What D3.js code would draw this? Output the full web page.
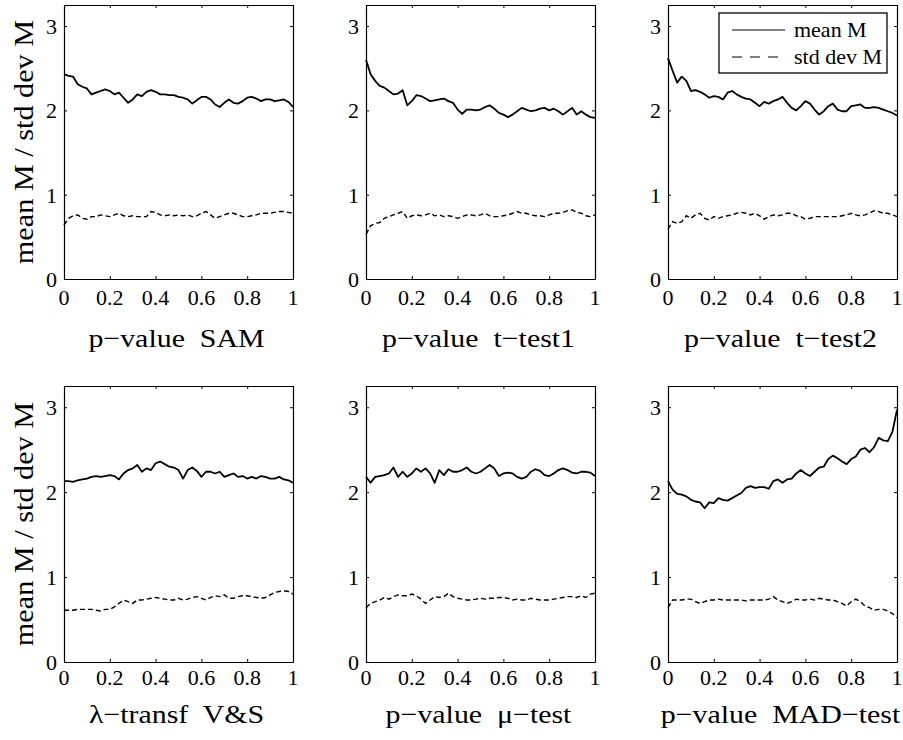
<!DOCTYPE html>
<html>
<head>
<meta charset="utf-8">
<script src="https://cdn.jsdelivr.net/npm/d3@7"></script>
<style>
  html, body { margin: 0; padding: 0; background: #fff; }
  svg { display: block; }
  text { font-family: "Liberation Serif", "Times New Roman", serif; fill: #000; white-space: pre; }
</style>
</head>
<body>
<svg id="chart" width="903" height="740"></svg>
<script>
// Sampling grid along each cutoff axis (step 0.02)
const xGrid = d3.range(51).map(i => +(i * 0.02).toFixed(2));

// Mean and standard deviation of M for each ranking method
const meanSAM = [2.43,2.41,2.40,2.31,2.28,2.26,2.19,2.21,2.23,2.25,2.23,2.19,2.21,2.15,2.09,2.13,2.19,2.17,2.22,2.24,2.22,2.19,2.19,2.18,2.18,2.16,2.15,2.13,2.08,2.12,2.16,2.16,2.13,2.07,2.04,2.09,2.13,2.09,2.08,2.11,2.15,2.16,2.14,2.11,2.13,2.13,2.11,2.12,2.13,2.10,2.04];
const stdSAM  = [0.64,0.72,0.75,0.76,0.72,0.71,0.74,0.74,0.76,0.75,0.74,0.76,0.78,0.75,0.74,0.75,0.74,0.74,0.74,0.80,0.79,0.76,0.75,0.76,0.75,0.76,0.75,0.76,0.74,0.75,0.78,0.80,0.76,0.72,0.74,0.76,0.78,0.78,0.76,0.74,0.74,0.75,0.76,0.78,0.78,0.78,0.79,0.80,0.80,0.79,0.78];

const meanT1 = [2.60,2.43,2.35,2.29,2.27,2.23,2.19,2.20,2.24,2.06,2.11,2.18,2.17,2.14,2.11,2.12,2.13,2.14,2.11,2.09,2.01,1.96,2.01,2.01,2.00,2.01,2.04,2.06,2.02,1.97,1.95,1.92,1.95,1.99,2.03,2.01,1.99,2.00,2.02,2.03,2.00,2.02,1.99,1.95,1.99,2.03,1.95,1.99,1.95,1.92,1.91];
const stdT1  = [0.53,0.63,0.66,0.67,0.72,0.74,0.76,0.78,0.80,0.72,0.75,0.76,0.75,0.76,0.78,0.75,0.76,0.74,0.75,0.74,0.72,0.74,0.76,0.76,0.75,0.76,0.78,0.75,0.74,0.74,0.75,0.76,0.78,0.80,0.78,0.78,0.76,0.75,0.75,0.74,0.76,0.78,0.78,0.79,0.81,0.82,0.79,0.78,0.75,0.74,0.76];

const meanT2 = [2.62,2.47,2.33,2.40,2.35,2.23,2.24,2.22,2.19,2.15,2.17,2.16,2.13,2.21,2.23,2.19,2.16,2.14,2.13,2.09,2.05,2.10,2.08,2.11,2.13,2.16,2.09,2.03,2.00,2.05,2.11,2.08,2.01,1.95,1.99,2.05,2.08,2.01,1.99,1.99,2.05,2.06,2.07,2.03,2.03,2.04,2.03,2.01,1.99,1.97,1.94];
const stdT2  = [0.59,0.68,0.66,0.68,0.75,0.72,0.76,0.78,0.72,0.70,0.74,0.72,0.74,0.75,0.76,0.78,0.79,0.78,0.76,0.78,0.75,0.71,0.74,0.76,0.75,0.76,0.78,0.78,0.75,0.74,0.71,0.72,0.74,0.74,0.74,0.74,0.74,0.74,0.75,0.76,0.78,0.76,0.75,0.76,0.78,0.81,0.80,0.78,0.78,0.76,0.74];

const meanVS = [2.13,2.13,2.12,2.14,2.15,2.16,2.18,2.19,2.18,2.19,2.20,2.19,2.15,2.22,2.26,2.28,2.32,2.24,2.28,2.26,2.34,2.36,2.33,2.30,2.29,2.26,2.16,2.26,2.29,2.25,2.18,2.24,2.24,2.22,2.24,2.18,2.20,2.22,2.18,2.19,2.16,2.18,2.16,2.19,2.18,2.16,2.16,2.18,2.15,2.14,2.11];
const stdVS  = [0.61,0.61,0.61,0.62,0.62,0.62,0.62,0.61,0.60,0.62,0.62,0.65,0.69,0.73,0.71,0.69,0.73,0.73,0.74,0.75,0.76,0.75,0.74,0.73,0.73,0.75,0.73,0.74,0.76,0.77,0.75,0.73,0.76,0.78,0.77,0.79,0.75,0.75,0.77,0.78,0.78,0.77,0.76,0.75,0.76,0.79,0.82,0.83,0.84,0.83,0.80];

const meanMu = [2.18,2.11,2.18,2.19,2.20,2.22,2.29,2.18,2.24,2.18,2.22,2.28,2.24,2.28,2.22,2.11,2.26,2.20,2.27,2.24,2.24,2.26,2.29,2.24,2.22,2.24,2.28,2.32,2.28,2.19,2.22,2.23,2.22,2.18,2.16,2.18,2.24,2.27,2.25,2.20,2.19,2.22,2.26,2.28,2.26,2.23,2.22,2.24,2.24,2.23,2.19];
const stdMu  = [0.64,0.69,0.71,0.73,0.76,0.74,0.77,0.79,0.78,0.78,0.80,0.78,0.74,0.69,0.73,0.77,0.76,0.77,0.81,0.77,0.75,0.74,0.73,0.73,0.74,0.75,0.74,0.75,0.75,0.76,0.76,0.75,0.73,0.74,0.73,0.73,0.75,0.74,0.73,0.73,0.73,0.74,0.75,0.76,0.77,0.77,0.76,0.78,0.76,0.80,0.81];

const meanMAD = [2.13,2.03,1.98,1.97,1.95,1.91,1.89,1.88,1.81,1.88,1.87,1.93,1.91,1.90,1.93,1.96,1.99,2.05,2.07,2.05,2.06,2.06,2.04,2.13,2.15,2.11,2.15,2.16,2.22,2.26,2.22,2.19,2.24,2.29,2.30,2.39,2.43,2.40,2.36,2.33,2.39,2.42,2.50,2.52,2.47,2.53,2.64,2.61,2.60,2.71,2.97];
const stdMAD  = [0.64,0.73,0.73,0.73,0.74,0.74,0.71,0.69,0.71,0.73,0.73,0.74,0.73,0.73,0.73,0.73,0.73,0.72,0.73,0.73,0.73,0.73,0.74,0.77,0.73,0.71,0.69,0.71,0.74,0.73,0.73,0.74,0.73,0.75,0.74,0.73,0.73,0.71,0.69,0.66,0.71,0.74,0.71,0.66,0.64,0.61,0.62,0.62,0.60,0.57,0.52];

// Axis labels and ticks
const xLabels = ["p\u2212value  SAM", "p\u2212value  t\u2212test1", "p\u2212value  t\u2212test2",
                 "\u03BB\u2212transf  V&S", "p\u2212value  \u03BC\u2212test", "p\u2212value  MAD\u2212test"];
const yLabel = "mean M / std dev M";
const xTicks = [0, 0.2, 0.4, 0.6, 0.8, 1];
const xTickLabels = ["0", "0.2", "0.4", "0.6", "0.8", "1"];
const yTicks = [0, 1, 2, 3];
const yTickLabels = ["0", "1", "2", "3"];
const legendLabels = ["mean M", "std dev M"];

const meanSeries = [meanSAM, meanT1, meanT2, meanVS, meanMu, meanMAD];
const stdSeries  = [stdSAM, stdT1, stdT2, stdVS, stdMu, stdMAD];

// Layout
const colLeft = [64, 366, 668];
const panelW = 229;
const rowTop = [5, 386];
const rowBottom = [279, 662];
const tickLabelOffset = [25.5, 23];
const xLabelOffset = [68, 61];
const stretch = 1.1;        // slight horizontal widening of tick/legend glyphs
const labelStretch = 1.15;  // same for the axis titles
const dashPattern = "5,3";

const svg = d3.select("#chart");

xLabels.forEach((lab, i) => {
  const row = Math.floor(i / 3), col = i % 3;
  const left = colLeft[col], top = rowTop[row], bottom = rowBottom[row];
  const x = d3.scaleLinear().domain([0, 1]).range([left, left + panelW]);
  const y = d3.scaleLinear().domain([0, 3.25]).range([bottom, top]);
  const g = svg.append("g");

  const line = d3.line().x((d, k) => x(xGrid[k])).y(d => y(d));

  g.append("path").datum(stdSeries[i])
    .attr("d", line).attr("fill", "none").attr("stroke", "#000")
    .attr("stroke-width", 1.4).attr("stroke-dasharray", dashPattern);
  g.append("path").datum(meanSeries[i])
    .attr("d", line).attr("fill", "none").attr("stroke", "#000")
    .attr("stroke-width", 1.8).attr("stroke-linejoin", "round");

  // Box with inward ticks on all four sides
  const axB = d3.axisBottom(x).tickValues(xTicks).tickSizeInner(-3).tickSizeOuter(0).tickFormat("");
  const axT = d3.axisTop(x).tickValues(xTicks).tickSizeInner(-3).tickSizeOuter(0).tickFormat("");
  const axL = d3.axisLeft(y).tickValues(yTicks).tickSizeInner(-3).tickSizeOuter(0).tickFormat("");
  const axR = d3.axisRight(y).tickValues(yTicks).tickSizeInner(-3).tickSizeOuter(0).tickFormat("");
  [[axB, `translate(0,${bottom})`], [axT, `translate(0,${top})`],
   [axL, `translate(${left},0)`], [axR, `translate(${left + panelW},0)`]].forEach(([ax, tr]) => {
    const a = g.append("g").attr("transform", tr).call(ax);
    a.select(".domain").attr("stroke", "#000").attr("stroke-width", 1.2);
    a.selectAll(".tick line").attr("stroke", "#000").attr("stroke-width", 1);
  });

  // Tick labels
  xTicks.forEach((t, k) => {
    g.append("text")
      .attr("transform", `translate(${x(t)},${bottom + tickLabelOffset[row]}) scale(${stretch},1)`)
      .attr("text-anchor", "middle").attr("font-size", 20).text(xTickLabels[k]);
  });
  yTicks.forEach((t, k) => {
    g.append("text")
      .attr("transform", `translate(${left - 7},${y(t)}) scale(${stretch},1)`)
      .attr("text-anchor", "end").attr("dy", "0.4em").attr("font-size", 20).text(yTickLabels[k]);
  });

  // Axis label
  g.append("text")
    .attr("transform", `translate(${left + panelW / 2 - 2},${bottom + xLabelOffset[row]}) scale(${labelStretch},1)`)
    .attr("text-anchor", "middle").attr("font-size", 26).text(lab);

  if (col === 0) {
    g.append("text")
      .attr("transform", `translate(33,${(top + bottom) / 2}) rotate(-90) scale(1.12,1)`)
      .attr("text-anchor", "middle").attr("font-size", 27).text(yLabel);
  }

  // Legend in the top-right panel
  if (i === 2) {
    const lx = left + 51, ly = top + 8;
    const lg = g.append("g");
    lg.append("rect").attr("x", lx).attr("y", ly).attr("width", 168).attr("height", 60)
      .attr("fill", "#fff").attr("stroke", "#000").attr("stroke-width", 1.3);
    legendLabels.forEach((name, k) => {
      const yy = ly + 17 + k * 27;
      lg.append("line").attr("x1", lx + 13).attr("x2", lx + 66).attr("y1", yy).attr("y2", yy)
        .attr("stroke", "#000").attr("stroke-width", 1.2)
        .attr("stroke-dasharray", k === 1 ? "10,8" : null);
      lg.append("text")
        .attr("transform", `translate(${lx + 75},${yy + 7}) scale(${stretch},1)`)
        .attr("font-size", 20).text(name);
    });
  }
});
</script>
</body>
</html>
